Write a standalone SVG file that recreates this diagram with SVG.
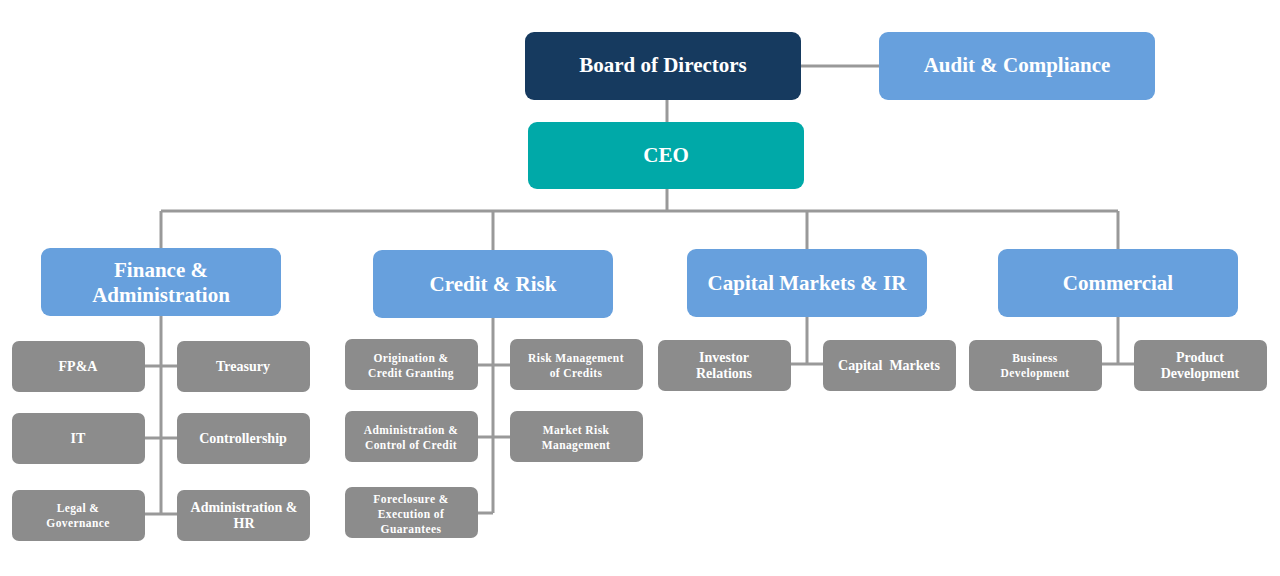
<svg xmlns="http://www.w3.org/2000/svg" width="1280" height="576" viewBox="0 0 1280 576">
<style>
.t{font-family:"Liberation Serif","Times New Roman",serif;font-weight:bold;fill:#fff;text-anchor:middle}
.l1{font-size:21px}
.l2{font-size:21px}
.c{font-size:14px}
.s{font-size:11.5px;letter-spacing:0.4px}
.gray{fill:#8c8c8c}
.blue{fill:#67a0dd}
.ln{stroke:#999;stroke-width:3;fill:none}
</style>
<rect width="1280" height="576" fill="#fff"/>
<g id="connectors" class="ln">
<path d="M801 66H879M667 100V122M667 189V211M161 211H1118M161 211V248M493 211V250M807 211V249M1118 211V249"/>
<path d="M161 316V514M145 366H177M145 438H177M145 514H177"/>
<path d="M493 318V513M478 365H510M478 437H510M478 513H493"/>
<path d="M807 317V364M791 364H823"/>
<path d="M1118 317V364M1102 364H1134"/>
</g>
<g id="board"><rect x="525" y="32" width="276" height="68" rx="9" fill="#163a5f"/><text class="t l1" x="663" y="72">Board of Directors</text></g>
<g id="audit"><rect x="879" y="32" width="276" height="68" rx="9" class="blue"/><text class="t l1" x="1017" y="72">Audit &amp; Compliance</text></g>
<g id="ceo"><rect x="528" y="122" width="276" height="67" rx="9" fill="#00a9a8"/><text class="t l1" x="666" y="162">CEO</text></g>
<g id="finance"><rect x="41" y="248" width="240" height="68" rx="9" class="blue"/><text class="t l2" x="161" y="277">Finance &amp;</text><text class="t l2" x="161" y="302">Administration</text></g>
<g id="credit"><rect x="373" y="250" width="240" height="68" rx="9" class="blue"/><text class="t l2" x="493" y="291">Credit &amp; Risk</text></g>
<g id="capital"><rect x="687" y="249" width="240" height="68" rx="9" class="blue"/><text class="t l2" x="807" y="290">Capital Markets &amp; IR</text></g>
<g id="commercial"><rect x="998" y="249" width="240" height="68" rx="9" class="blue"/><text class="t l2" x="1118" y="290">Commercial</text></g>
<g id="fpa"><rect x="12" y="341" width="133" height="51" rx="7" class="gray"/><text class="t c" x="78" y="371">FP&amp;A</text></g>
<g id="treasury"><rect x="177" y="341" width="133" height="51" rx="7" class="gray"/><text class="t c" x="243" y="371">Treasury</text></g>
<g id="it"><rect x="12" y="413" width="133" height="51" rx="7" class="gray"/><text class="t c" x="78" y="443">IT</text></g>
<g id="controllership"><rect x="177" y="413" width="133" height="51" rx="7" class="gray"/><text class="t c" x="243" y="443">Controllership</text></g>
<g id="legal"><rect x="12" y="490" width="133" height="51" rx="7" class="gray"/><text class="t s" x="78" y="512">Legal &amp;</text><text class="t s" x="78" y="527">Governance</text></g>
<g id="adminhr"><rect x="177" y="490" width="133" height="51" rx="7" class="gray"/><text class="t c" x="244" y="512">Administration &amp;</text><text class="t c" x="244" y="528">HR</text></g>
<g id="origination"><rect x="345" y="339" width="133" height="51" rx="7" class="gray"/><text class="t s" x="411" y="362">Origination &amp;</text><text class="t s" x="411" y="377">Credit Granting</text></g>
<g id="riskmgmt"><rect x="510" y="339" width="133" height="51" rx="7" class="gray"/><text class="t s" x="576" y="362">Risk Management</text><text class="t s" x="576" y="377">of Credits</text></g>
<g id="adminctrl"><rect x="345" y="411" width="133" height="51" rx="7" class="gray"/><text class="t s" x="411" y="434">Administration &amp;</text><text class="t s" x="411" y="449">Control of Credit</text></g>
<g id="marketrisk"><rect x="510" y="411" width="133" height="51" rx="7" class="gray"/><text class="t s" x="576" y="434">Market Risk</text><text class="t s" x="576" y="449">Management</text></g>
<g id="foreclosure"><rect x="345" y="487" width="133" height="51" rx="7" class="gray"/><text class="t s" x="411" y="503">Foreclosure &amp;</text><text class="t s" x="411" y="518">Execution of</text><text class="t s" x="411" y="533">Guarantees</text></g>
<g id="investor"><rect x="658" y="340" width="133" height="51" rx="7" class="gray"/><text class="t c" x="724" y="362">Investor</text><text class="t c" x="724" y="378">Relations</text></g>
<g id="capmarkets"><rect x="823" y="340" width="133" height="51" rx="7" class="gray"/><text class="t c" x="889" y="370" xml:space="preserve">Capital  Markets</text></g>
<g id="busdev"><rect x="969" y="340" width="133" height="51" rx="7" class="gray"/><text class="t s" x="1035" y="362">Business</text><text class="t s" x="1035" y="377">Development</text></g>
<g id="proddev"><rect x="1134" y="340" width="133" height="51" rx="7" class="gray"/><text class="t c" x="1200" y="362">Product</text><text class="t c" x="1200" y="378">Development</text></g>
</svg>
